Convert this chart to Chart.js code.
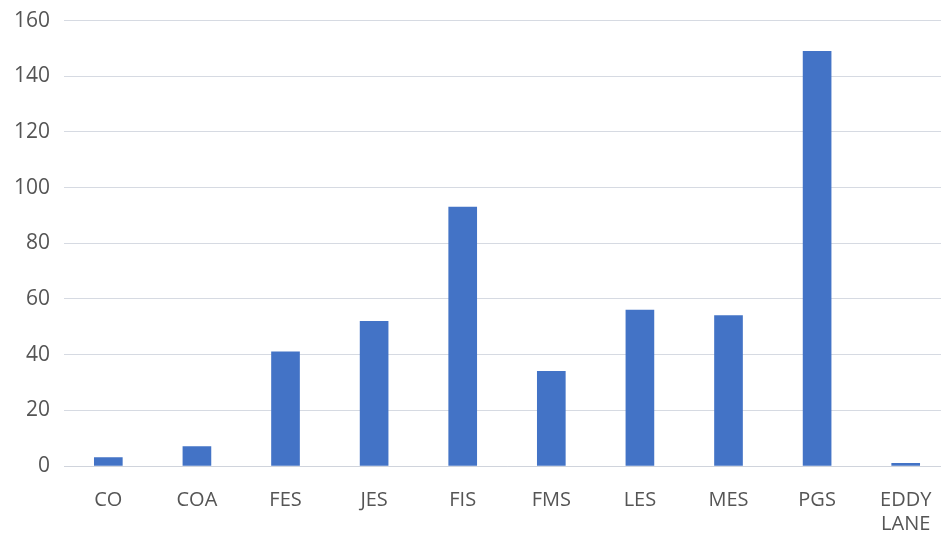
<!DOCTYPE html>
<html lang="en">
<head>
<meta charset="UTF-8" />
<title>Bar chart</title>
<script src="https://cdn.jsdelivr.net/npm/chart.js"></script>
<style>
    body { margin: 0; background: #fff; overflow: hidden; }
    #wrap { width: 941px; height: 545px; overflow: hidden; }
    #chart { display: block; margin-top: -6px; }
</style>
</head>
<body>
<div id="wrap"><canvas id="chart" width="950" height="557"></canvas></div>
<script>
    // categories and values
    const categories = ['CO', 'COA', 'FES', 'JES', 'FIS', 'FMS', 'LES', 'MES', 'PGS', ['EDDY', 'LANE']];
    const counts = [3, 7, 41, 52, 93, 34, 56, 54, 149, 1];
    const yMax = 160;
    const yStep = 20;

    const ctx = document.getElementById('chart').getContext('2d');
    new Chart(ctx, {
        type: 'bar',
        data: {
            labels: categories,
            datasets: [{
                data: counts,
                backgroundColor: '#4373c6',
                barThickness: 28
            }]
        },
        options: {
            responsive: false,
            animation: false,
            layout: { padding: { top: -9, right: 0, left: 0, bottom: 1 } },
            plugins: { legend: { display: false }, tooltip: { enabled: false } },
            scales: {
                x: {
                    grid: { display: false },
                    border: { display: true, color: '#d0d4dc', width: 1 },
                    ticks: {
                        color: '#555',
                        font: { family: 'Open Sans', size: 20 },
                        padding: 14,
                        maxRotation: 0
                    }
                },
                y: {
                    min: 0,
                    max: yMax,
                    grid: { color: '#d6dae2', drawTicks: false },
                    border: { display: false },
                    ticks: {
                        stepSize: yStep,
                        color: '#555',
                        font: { family: 'Open Sans', size: 21 },
                        padding: 14
                    }
                }
            }
        }
    });
</script>
</body>
</html>
